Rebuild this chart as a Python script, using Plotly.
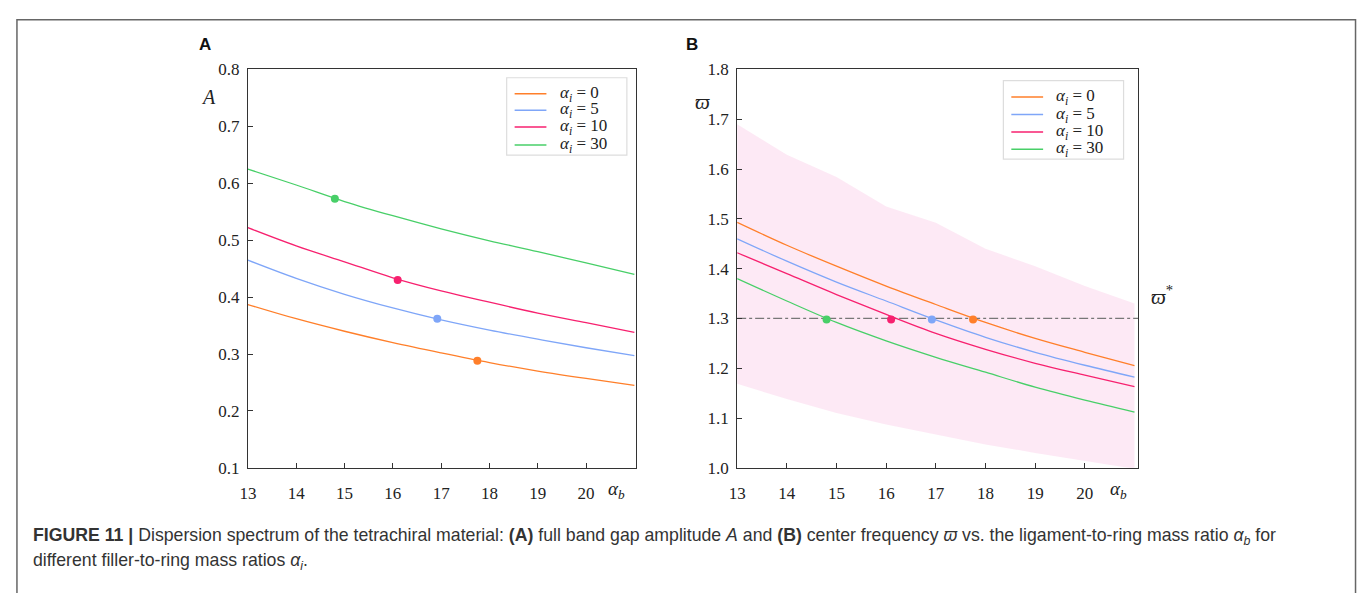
import plotly.graph_objects as go

# ---------------- data ----------------
alpha_b = [13, 14, 15, 16, 17, 18, 19, 20, 21]
series_names = ["0", "5", "10", "30"]
colors = ["#ff7f2a", "#7fa6f8", "#f7216f", "#48cf68"]

# Panel A: band gap amplitude A
A_vals = {
    "0":  [0.387, 0.362, 0.340, 0.320, 0.302, 0.285, 0.270, 0.257, 0.245],
    "5":  [0.465, 0.433, 0.405, 0.381, 0.360, 0.342, 0.326, 0.311, 0.297],
    "10": [0.522, 0.490, 0.462, 0.434, 0.411, 0.391, 0.372, 0.355, 0.338],
    "30": [0.625, 0.597, 0.568, 0.543, 0.520, 0.499, 0.480, 0.460, 0.440],
}
# Panel B: center frequency
W_vals = {
    "0":  [1.493, 1.447, 1.405, 1.365, 1.328, 1.292, 1.260, 1.232, 1.205],
    "5":  [1.460, 1.415, 1.373, 1.335, 1.297, 1.262, 1.232, 1.206, 1.182],
    "10": [1.432, 1.390, 1.348, 1.308, 1.270, 1.238, 1.210, 1.186, 1.163],
    "30": [1.380, 1.335, 1.292, 1.255, 1.222, 1.192, 1.162, 1.136, 1.112],
}
band_upper = [1.690, 1.629, 1.584, 1.525, 1.492, 1.440, 1.405, 1.365, 1.330]
band_lower = [1.169, 1.138, 1.110, 1.087, 1.067, 1.047, 1.030, 1.014, 0.998]

dot_x = [17.75, 16.92, 16.10, 14.80]
dot_A = [0.288, 0.362, 0.430, 0.573]
dot_W = [1.298, 1.298, 1.298, 1.298]
w_star = 1.3

x_ticks = [13, 14, 15, 16, 17, 18, 19, 20]
yA_ticks = [0.1, 0.2, 0.3, 0.4, 0.5, 0.6, 0.7, 0.8]
yB_ticks = [1.0, 1.1, 1.2, 1.3, 1.4, 1.5, 1.6, 1.7, 1.8]

# ---------------- figure ----------------
W, H = 1360, 593
fig = go.Figure()

# band in panel B
fig.add_trace(go.Scatter(x=alpha_b, y=band_upper, mode="lines", line=dict(width=0),
                         showlegend=False, hoverinfo="skip", xaxis="x2", yaxis="y2"))
fig.add_trace(go.Scatter(x=alpha_b, y=band_lower, mode="lines", line=dict(width=0),
                         fill="tonexty", fillcolor="rgba(252,226,242,0.75)",
                         showlegend=False, hoverinfo="skip", xaxis="x2", yaxis="y2"))
# reference line
fig.add_trace(go.Scatter(x=[13, 21.07], y=[w_star, w_star], mode="lines",
                         line=dict(color="#777777", width=1.2, dash="dashdot"),
                         showlegend=False, hoverinfo="skip", xaxis="x2", yaxis="y2"))

for i, name in enumerate(series_names):
    fig.add_trace(go.Scatter(x=alpha_b, y=A_vals[name], mode="lines", line_shape="spline",
                             line=dict(color=colors[i], width=1.3), showlegend=False,
                             xaxis="x", yaxis="y"))
    fig.add_trace(go.Scatter(x=alpha_b, y=W_vals[name], mode="lines", line_shape="spline",
                             line=dict(color=colors[i], width=1.3), showlegend=False,
                             xaxis="x2", yaxis="y2"))
for i, name in enumerate(series_names):
    fig.add_trace(go.Scatter(x=[dot_x[i]], y=[dot_A[i]], mode="markers",
                             marker=dict(color=colors[i], size=8), showlegend=False,
                             xaxis="x", yaxis="y"))
    fig.add_trace(go.Scatter(x=[dot_x[i]], y=[dot_W[i]], mode="markers",
                             marker=dict(color=colors[i], size=8), showlegend=False,
                             xaxis="x2", yaxis="y2"))

serif = "Liberation Serif"
sans = "Liberation Sans"
ybot, ytop = 1 - 474 / H, 1 - 62.5 / H

axis_common = dict(showline=True, linecolor="#333333", linewidth=1.2, mirror=True,
                   ticks="inside", ticklen=5, tickcolor="#333333", tickwidth=1.2,
                   showgrid=False, zeroline=False,
                   tickfont=dict(family=serif, size=17, color="#222222"))

fig.update_layout(
    width=W, height=H, margin=dict(l=0, r=0, t=0, b=0),
    paper_bgcolor="white", plot_bgcolor="white",
    font=dict(family=serif, size=16, color="#222222"),
    showlegend=False,
    xaxis=dict(domain=[240.5 / W, 631 / W], range=[13, 21.03], tickvals=x_ticks,
               anchor="y", ticklabelstandoff=10, **axis_common),
    yaxis=dict(domain=[ybot, ytop], range=[0.1, 0.8], tickvals=yA_ticks,
               tickformat=".1f", anchor="x", ticklabelstandoff=4, **axis_common),
    xaxis2=dict(domain=[733 / W, 1136.5 / W], range=[13, 21.07], tickvals=x_ticks,
                anchor="y2", ticklabelstandoff=10, **axis_common),
    yaxis2=dict(domain=[ybot, ytop], range=[1.0, 1.8], tickvals=yB_ticks,
                tickformat=".1f", anchor="x2", ticklabelstandoff=4, **axis_common),
)

ann = []
shapes = []
def px(x, y, text, size, family=serif, xanchor="center", yanchor="middle", color="#222222"):
    ann.append(dict(x=x / W, y=1 - y / H, xref="paper", yref="paper", text=text,
                    showarrow=False, xanchor=xanchor, yanchor=yanchor,
                    font=dict(family=family, size=size, color=color)))

# manual legends (box, line samples, labels)
legend_boxes = [(501, 622, 71, 151, 509, 541, 553, [87.5, 104.5, 122, 140.5]),
                (1001, 1122, 74, 155, 1009, 1041, 1052, [91, 109, 127, 145])]
for (bx0, bx1, by0, by1, lx0, lx1, tx, rows) in legend_boxes:
    shapes.append(dict(type="rect", xref="paper", yref="paper", x0=bx0 / W, x1=bx1 / W,
                       y0=1 - by1 / H, y1=1 - by0 / H,
                       line=dict(color="#dddddd", width=1.2), fillcolor="white"))
    for i, name in enumerate(series_names):
        yy = rows[i]
        shapes.append(dict(type="line", xref="paper", yref="paper", x0=lx0 / W, x1=lx1 / W,
                           y0=1 - yy / H, y1=1 - yy / H,
                           line=dict(color=colors[i], width=1.5)))
        px(tx, yy, f"<i>α<sub>i</sub></i> = {name}", 17, xanchor="left")

px(197, 37, "<b>A</b>", 17, sans, color="#111111")
px(688, 37, "<b>B</b>", 17, sans, color="#111111")
px(201, 91, "<i>A</i>", 20)
px(698, 96, "<i>ϖ</i>", 21)
px(612, 497, "<i>α<sub>b</sub></i>", 19)
px(1117, 497, "<i>α<sub>b</sub></i>", 19)
px(1148, 296, "<i>ϖ</i><sup>*</sup>", 21, xanchor="left")
px(22, 545, "<b>FIGURE 11 |</b> Dispersion spectrum of the tetrachiral material: <b>(A)</b> full band gap amplitude <i>A</i> and <b>(B)</b> center frequency <i>ϖ</i> vs. the ligament-to-ring mass ratio <i>α<sub>b</sub></i> for",
   17.7, sans, xanchor="left", color="#333333")
px(22, 571, "different filler-to-ring mass ratios <i>α<sub>i</sub></i>.", 17.7, sans,
   xanchor="left", color="#333333")

shapes.append(dict(type="rect", xref="paper", yref="paper", x0=8 / W, x1=1355.5 / W,
                   y0=-0.1, y1=1 - 11 / H, line=dict(color="#666666", width=1.5),
                   fillcolor="rgba(0,0,0,0)", layer="below"))
fig.update_layout(annotations=ann, shapes=shapes)

fig.write_html("out.html")
